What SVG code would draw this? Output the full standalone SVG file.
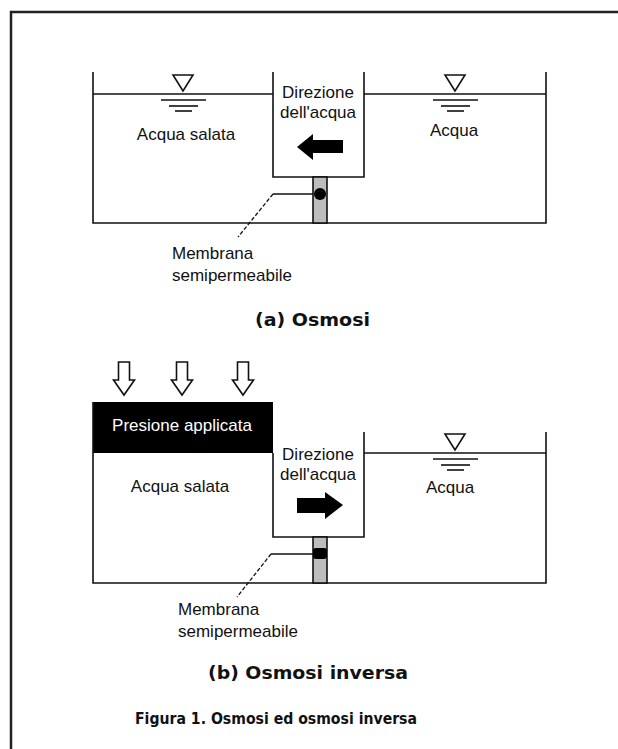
<svg xmlns="http://www.w3.org/2000/svg" width="618" height="749" viewBox="0 0 618 749">
<defs>
<style>
.ln{stroke:#111;stroke-width:1.6;fill:none}
.tube{fill:#bdbdbd;stroke:#111;stroke-width:1.6}
.lbl{font-family:"Liberation Sans",Arial,sans-serif;font-size:17px;fill:#111}
.ttl{font-family:"DejaVu Sans",Verdana,sans-serif;font-weight:bold;fill:#111}
.lead{stroke:#111;stroke-width:1.3;fill:none}
.tri{fill:#fff;stroke:#111;stroke-width:1.6}
.harrow{fill:#fff;stroke:#111;stroke-width:1.6;stroke-linejoin:miter}
</style>
<g id="surface">
<path class="tri" d="M-10,0 H10 L0,16 Z"/>
<line class="ln" x1="-22" y1="25" x2="23" y2="25"/>
<line class="ln" x1="-14" y1="31" x2="15" y2="31"/>
<line class="ln" x1="-8" y1="36" x2="9" y2="36"/>
</g>
<g id="downarrow">
<path class="harrow" d="M-5.5,0 H5.5 V18 H10.5 L0,33 L-10.5,18 H-5.5 Z"/>
</g>
</defs>
<rect width="618" height="749" fill="#fff"/>
<path d="M618,12 H11 V749" stroke="#222" stroke-width="2.5" fill="none"/>

<!-- (a) Osmosi -->
<g id="tankA">
<path class="ln" d="M93,72 V223 H546 V72"/>
<line class="ln" x1="93" y1="94" x2="273" y2="94"/>
<line class="ln" x1="364" y1="94" x2="546" y2="94"/>
<path class="ln" d="M273,72 V177 H364 V72"/>
</g>
<g id="tubeA">
<rect class="tube" x="313" y="177" width="14" height="46"/>
<ellipse cx="320" cy="194" rx="6" ry="6" fill="#000"/>
</g>
<g id="surfaceA1"><use href="#surface" x="183" y="75"/></g>
<g id="surfaceA2"><use href="#surface" x="455" y="75"/></g>
<g id="labelsA">
<text class="lbl" x="318" y="98" text-anchor="middle">Direzione</text>
<text class="lbl" x="318" y="118" text-anchor="middle">dell'acqua</text>
<text class="lbl" x="186" y="140" text-anchor="middle">Acqua salata</text>
<text class="lbl" x="454" y="136" text-anchor="middle">Acqua</text>
<text class="lbl" x="172" y="259">Membrana</text>
<text class="lbl" x="172" y="281">semipermeabile</text>
</g>
<g id="arrowA">
<path d="M297,147 L313,134 V140 H343 V153 H313 V160 Z" fill="#000"/>
</g>
<g id="titleA">
<text class="ttl" x="255" y="326" font-size="17" textLength="115" lengthAdjust="spacingAndGlyphs">(a) Osmosi</text>
</g>

<!-- (b) Osmosi inversa -->
<g id="pressure">
<use href="#downarrow" x="124" y="362"/>
<use href="#downarrow" x="182" y="362"/>
<use href="#downarrow" x="243" y="362"/>
<rect x="93" y="402" width="180" height="51" fill="#000"/>
<text class="lbl" x="182" y="431" text-anchor="middle" fill="#fff" style="fill:#fff">Presione applicata</text>
</g>
<g id="tankB">
<path class="ln" d="M93,402 V583 H546 V432"/>
<line class="ln" x1="364" y1="453" x2="546" y2="453"/>
<path class="ln" d="M273,453 V537 H364 V432"/>
</g>
<g id="tubeB">
<rect class="tube" x="313" y="537" width="14" height="46"/>
<rect x="313" y="548" width="14" height="11" rx="3" fill="#000"/>
</g>
<g id="surfaceB"><use href="#surface" x="455" y="434"/></g>
<g id="labelsB">
<text class="lbl" x="318" y="460" text-anchor="middle">Direzione</text>
<text class="lbl" x="318" y="480" text-anchor="middle">dell'acqua</text>
<text class="lbl" x="180" y="492" text-anchor="middle">Acqua salata</text>
<text class="lbl" x="450" y="493" text-anchor="middle">Acqua</text>
<text class="lbl" x="178" y="615">Membrana</text>
<text class="lbl" x="178" y="637">semipermeabile</text>
</g>
<g id="arrowB">
<path d="M343,505 L325,492 V498 H297 V513 H325 V519 Z" fill="#000"/>
</g>
<g id="titleB">
<text class="ttl" x="208" y="679" font-size="17" textLength="200" lengthAdjust="spacingAndGlyphs">(b) Osmosi inversa</text>
</g>
<g id="caption">
<text class="ttl" x="135" y="724" font-size="16" textLength="282" lengthAdjust="spacingAndGlyphs">Figura 1. Osmosi ed osmosi inversa</text>
</g>

<g id="connectors">
<path class="lead" d="M313,194 H273"/>
<path class="lead" d="M273,194 L238,237" stroke-dasharray="4 2"/>
<path class="lead" d="M313,554 H271"/>
<path class="lead" d="M271,554 L237,597" stroke-dasharray="4 2"/>
</g>
</svg>
